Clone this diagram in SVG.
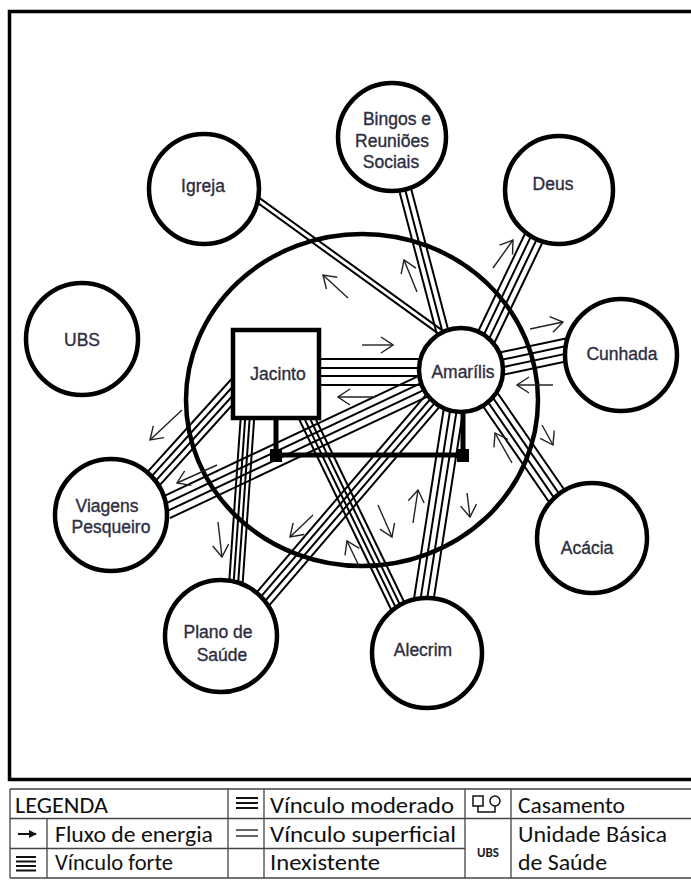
<svg xmlns="http://www.w3.org/2000/svg" width="691" height="880" viewBox="0 0 691 880">
<defs>
<marker id="ah" viewBox="0 0 14 18" refX="13" refY="9" markerWidth="14" markerHeight="18" markerUnits="userSpaceOnUse" orient="auto">
<path d="M1,1 L13,9 L1,17" fill="none" stroke="#222" stroke-width="1.4"/>
</marker>
<marker id="lah" viewBox="0 0 10 10" refX="9" refY="5" markerWidth="8" markerHeight="8" markerUnits="userSpaceOnUse" orient="auto">
<path d="M0,0 L10,5 L0,10 Z" fill="#111"/>
</marker>
</defs>
<style>
.node{fill:#fff;stroke:#000;stroke-width:4.5}
.lbl{font-family:"Liberation Sans",Arial,sans-serif;font-size:17.5px;fill:#2e2e40;stroke:#2e2e40;stroke-width:0.35;text-anchor:middle}
.lk path{fill:none;stroke:#000;stroke-width:2}
.flow{fill:none;stroke:#222;stroke-width:1.4;marker-end:url(#ah)}
.tb{stroke:#444;stroke-width:1.3;fill:none}
.lt{font-family:Carlito,Lato,"Open Sans",sans-serif;font-size:21.5px;fill:#111}
</style>
<rect x="9.5" y="11.5" width="700" height="768" fill="none" stroke="#000" stroke-width="3.5"/>
<ellipse id="ambiente" cx="362" cy="400" rx="176" ry="166" fill="none" stroke="#000" stroke-width="4.5"/>
<g id="connectors" class="lk">
<g transform="translate(240 187) rotate(35.9)"><path d="M0-2.5H259M0 2.5H259"/></g>
<g transform="translate(400 170) rotate(75.3)"><path d="M0-6H174M0 0H174M0 6H174"/></g>
<g transform="translate(540 225) rotate(115.6)"><path d="M0-9.75H130M0-3.25H130M0 3.25H130M0 9.75H130"/></g>
<g transform="translate(495 365) rotate(-12)"><path d="M0-11.25H82M0-3.75H82M0 3.75H82M0 11.25H82"/></g>
<g transform="translate(485 392) rotate(55.4)"><path d="M0-9.75H141M0-3.25H141M0 3.25H141M0 9.75H141"/></g>
<path d="M315 359H425M315 368H425M315 376H425M315 385H425"/>
<g transform="translate(240 383) rotate(132.1)"><path d="M0-9H137M0-3H137M0 3H137M0 9H137"/></g>
<g transform="translate(430 383) rotate(154.75)"><path d="M0-11.25H293M0-3.75H293M0 3.75H293M0 11.25H293"/></g>
<g transform="translate(248 410) rotate(94)"><path d="M0-6.75H186M0-2.25H186M0 2.25H186M0 6.75H186"/></g>
<g transform="translate(436 397) rotate(130.6)"><path d="M0-9H274M0-3H274M0 3H274M0 9H274"/></g>
<g transform="translate(303 410) rotate(64.2)"><path d="M0-7.5H228M0-2.5H228M0 2.5H228M0 7.5H228"/></g>
<g transform="translate(455 400) rotate(98.9)"><path d="M0-9.75H213M0-3.25H213M0 3.25H213M0 9.75H213"/></g>
</g>
<g id="casamento">
<path d="M276 418V455H463V412" fill="none" stroke="#000" stroke-width="5"/>
<rect x="270" y="449" width="12" height="13" fill="#000"/>
<rect x="457" y="449" width="12" height="13" fill="#000"/>
</g>
<g id="fluxos">
<line class="flow" x1="348" y1="298" x2="323" y2="275"/>
<line class="flow" x1="417" y1="292" x2="404" y2="260"/>
<line class="flow" x1="493" y1="268" x2="513" y2="240"/>
<line class="flow" x1="530" y1="329" x2="563" y2="322"/>
<line class="flow" x1="553" y1="385" x2="517" y2="385"/>
<line class="flow" x1="512" y1="463" x2="495" y2="433"/>
<line class="flow" x1="542" y1="425" x2="553" y2="445"/>
<line class="flow" x1="362" y1="345" x2="393" y2="345"/>
<line class="flow" x1="375" y1="397" x2="338" y2="397"/>
<line class="flow" x1="182" y1="410" x2="150" y2="440"/>
<line class="flow" x1="217" y1="465" x2="177" y2="483"/>
<line class="flow" x1="218" y1="522" x2="222" y2="557"/>
<line class="flow" x1="313" y1="515" x2="290" y2="537"/>
<line class="flow" x1="378" y1="505" x2="392" y2="537"/>
<line class="flow" x1="359" y1="566" x2="347" y2="541"/>
<line class="flow" x1="413" y1="523" x2="418" y2="490"/>
<line class="flow" x1="467" y1="493" x2="470" y2="517"/>
</g>
<g id="igreja"><circle class="node" cx="204" cy="189" r="55"/><text class="lbl" x="203" y="192">Igreja</text></g>
<g id="bingos"><circle class="node" cx="392" cy="137" r="54"/><text class="lbl" x="397" y="125">Bingos e</text><text class="lbl" x="392" y="147">Reuniões</text><text class="lbl" x="391" y="168">Sociais</text></g>
<g id="deus"><circle class="node" cx="559" cy="190" r="54"/><text class="lbl" x="553" y="190">Deus</text></g>
<g id="cunhada"><circle class="node" cx="621" cy="355" r="56"/><text class="lbl" x="622" y="360">Cunhada</text></g>
<g id="acacia"><circle class="node" cx="592" cy="538" r="55"/><text class="lbl" x="587" y="554">Acácia</text></g>
<g id="ubs"><circle class="node" cx="82" cy="339" r="56"/><text class="lbl" x="82" y="346">UBS</text></g>
<g id="viagens"><circle class="node" cx="111" cy="515" r="56"/><text class="lbl" x="107" y="512">Viagens</text><text class="lbl" x="111" y="533">Pesqueiro</text></g>
<g id="plano"><circle class="node" cx="221" cy="636" r="56"/><text class="lbl" x="218" y="638">Plano de</text><text class="lbl" x="222" y="661">Saúde</text></g>
<g id="alecrim"><circle class="node" cx="427" cy="653" r="55"/><text class="lbl" x="423" y="656">Alecrim</text></g>
<g id="jacinto"><rect class="node" x="233" y="330" width="86" height="88"/><text class="lbl" x="278" y="380">Jacinto</text></g>
<g id="amarilis"><circle class="node" cx="461" cy="370" r="42"/><text class="lbl" x="463" y="378">Amarílis</text></g>
<g id="legenda">
<path class="tb" d="M10 789H691M10 818.5H691M10 848.5H465M10 878H691M10 789V878M47 818.5V878M228 789V878M264 789V878M465 789V878M511 789V878"/>
<text class="lt" x="15" y="813" textLength="93" lengthAdjust="spacingAndGlyphs">LEGENDA</text>
<path d="M236 798H258M236 803H258M236 808H258" stroke="#111" stroke-width="2"/>
<text class="lt" x="270" y="813" textLength="184" lengthAdjust="spacingAndGlyphs">Vínculo moderado</text>
<g fill="none" stroke="#111" stroke-width="1.5"><rect x="473" y="796" width="10" height="10"/><circle cx="495" cy="801" r="5"/><path d="M478 806V812H495V806"/></g>
<text class="lt" x="518" y="813" textLength="107" lengthAdjust="spacingAndGlyphs">Casamento</text>
<line x1="18" y1="834" x2="36" y2="834" stroke="#111" stroke-width="2" marker-end="url(#lah)"/>
<text class="lt" x="55" y="842" textLength="158" lengthAdjust="spacingAndGlyphs">Fluxo de energia</text>
<path d="M236 830H258M236 836H258" stroke="#333" stroke-width="1.5"/>
<text class="lt" x="270" y="842" textLength="186" lengthAdjust="spacingAndGlyphs">Vínculo superficial</text>
<text x="488" y="857" font-family="Carlito,Lato,sans-serif" font-weight="bold" font-size="13" fill="#222" text-anchor="middle">UBS</text>
<text class="lt" x="518" y="842" textLength="149" lengthAdjust="spacingAndGlyphs">Unidade Básica</text>
<path d="M16 857H36M16 861.5H36M16 866H36M16 870.5H36" stroke="#111" stroke-width="2"/>
<text class="lt" x="55" y="870" textLength="118" lengthAdjust="spacingAndGlyphs">Vínculo forte</text>
<text class="lt" x="270" y="870" textLength="110" lengthAdjust="spacingAndGlyphs">Inexistente</text>
<text class="lt" x="518" y="870" textLength="89" lengthAdjust="spacingAndGlyphs">de Saúde</text>
</g>
</svg>
